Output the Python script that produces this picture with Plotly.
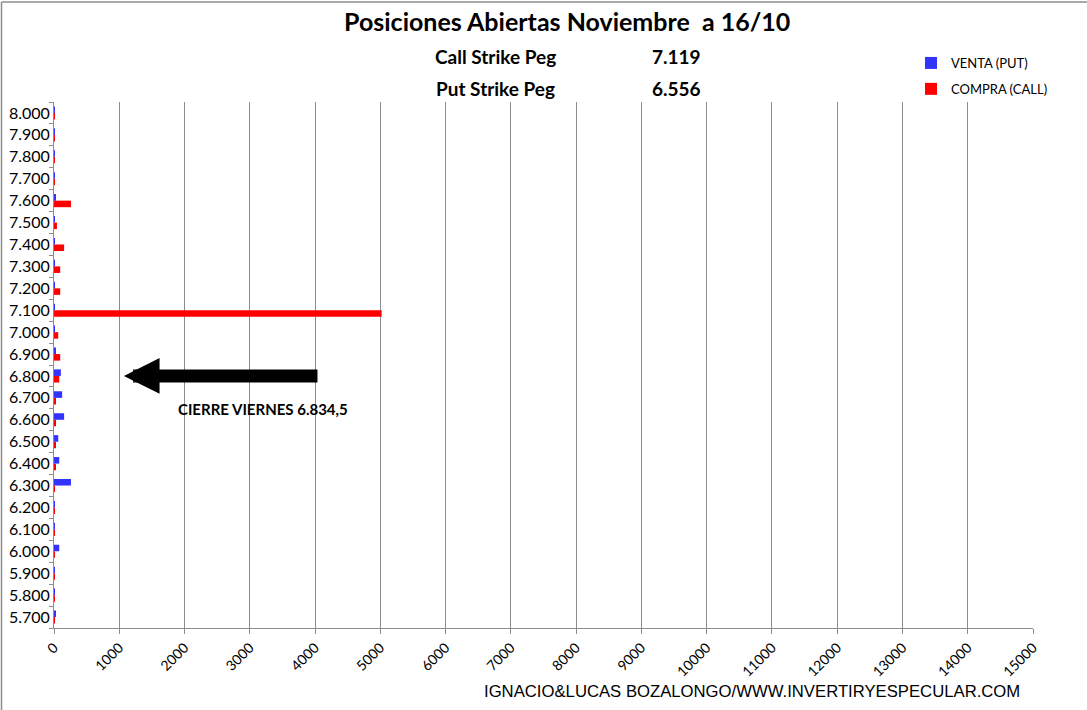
import plotly.graph_objects as go

strikes = ["5.700", "5.800", "5.900", "6.000", "6.100", "6.200", "6.300", "6.400",
           "6.500", "6.600", "6.700", "6.800", "6.900", "7.000", "7.100", "7.200",
           "7.300", "7.400", "7.500", "7.600", "7.700", "7.800", "7.900", "8.000"]
venta_put = [18, 15, 12, 80, 12, 15, 260, 80, 65, 155, 125, 105, 20, 15, 15, 15,
             15, 15, 15, 20, 12, 10, 15, 15]
compra_call = [2, 2, 2, 3, 2, 2, 5, 30, 30, 30, 30, 80, 95, 65, 5020, 95,
               95, 155, 45, 260, 12, 12, 15, 15]
x_ticks = list(range(0, 15001, 1000))

font_main = "Lato, 'Open Sans', sans-serif"

W, H = 1087, 710
L, R, T, B = 54, 54, 102, 82
PW, PH = W - L - R, H - T - B


def px(x):
    return (x - L) / PW


def py(y):
    return (H - B - y) / PH


fig = go.Figure()
fig.add_trace(go.Bar(y=strikes, x=compra_call, orientation="h", name="COMPRA (CALL)",
                     legendgroup="call", legendrank=2,
                     marker=dict(color="#ff0000", line=dict(width=0))))
fig.add_trace(go.Bar(y=strikes, x=venta_put, orientation="h", name="VENTA (PUT)",
                     legendgroup="put", legendrank=1,
                     marker=dict(color="#3333ff", line=dict(width=0))))

idx = strikes.index("6.800")

fig.update_layout(
    width=W, height=H,
    margin=dict(l=L, r=R, t=T, b=B, autoexpand=False),
    paper_bgcolor="white", plot_bgcolor="white",
    barmode="group", bargap=0.4, bargroupgap=0,
    font=dict(family=font_main, size=13, color="#000"),
    showlegend=True,
    legend=dict(x=px(911), y=py(48), xref="paper", yref="paper", xanchor="left", yanchor="top",
                traceorder="grouped", font=dict(size=13, family=font_main),
                itemwidth=30, bgcolor="rgba(0,0,0,0)", tracegroupgap=6),
    xaxis=dict(range=[0, 15000], tickvals=x_ticks, ticktext=[str(v) for v in x_ticks],
               tickangle=-45, showgrid=True, gridcolor="#8c8c8c", gridwidth=1,
               showline=True, linecolor="#8c8c8c", ticks="outside", ticklen=5,
               tickcolor="#8c8c8c", zeroline=False, tickfont=dict(size=14),
               automargin=False),
    yaxis=dict(type="category", categoryorder="array", categoryarray=strikes,
               showgrid=False, showline=True, linecolor="#8c8c8c", ticks="outside",
               tickson="boundaries", ticklen=4, tickcolor="#8c8c8c",
               tickfont=dict(size=16), zeroline=False, automargin=False),
)

fig.add_annotation(text="<b>Posiciones Abiertas Noviembre  a 16/10</b>", x=px(567), y=py(21),
                   xref="paper", yref="paper", showarrow=False, xanchor="center",
                   yanchor="middle", font=dict(size=25, family=font_main))

ann = [
    dict(text="<b>Call Strike Peg</b>", x=495, y=56),
    dict(text="<b>7.119</b>", x=676, y=56),
    dict(text="<b>Put Strike Peg</b>", x=495, y=88),
    dict(text="<b>6.556</b>", x=676, y=88),
]
for a in ann:
    fig.add_annotation(text=a["text"], x=px(a["x"]), y=py(a["y"]),
                       xref="paper", yref="paper", showarrow=False,
                       xanchor="center", yanchor="middle",
                       font=dict(size=19, family=font_main))

# arrow
fig.add_annotation(x=1070, y=idx, ax=4060, ay=idx, xref="x", yref="y",
                   axref="x", ayref="y", showarrow=True, arrowhead=2,
                   arrowwidth=13, arrowsize=0.55, arrowcolor="#000", text="")
fig.add_annotation(text="<b>CIERRE VIERNES 6.834,5</b>", x=px(263), y=py(409),
                   xref="paper", yref="paper", showarrow=False, xanchor="center",
                   yanchor="middle", font=dict(size=15, family=font_main))

fig.add_annotation(text="IGNACIO&LUCAS BOZALONGO/WWW.INVERTIRYESPECULAR.COM",
                   x=px(752), y=py(691), xref="paper", yref="paper",
                   showarrow=False, xanchor="center", yanchor="middle",
                   font=dict(size=16.7, family="'Liberation Sans', Arial, sans-serif"))

# outer border (top and left edges only, as in the reference crop)
fig.add_shape(type="line", xref="paper", yref="paper", x0=px(1.5), x1=px(W),
              y0=py(2), y1=py(2), line=dict(color="#8c8c8c", width=1.5))
fig.add_shape(type="line", xref="paper", yref="paper", x0=px(1.5), x1=px(1.5),
              y0=py(2), y1=py(H), line=dict(color="#8c8c8c", width=1.5))

fig.write_html("out.html", config={"displayModeBar": False},
               post_script="document.body.style.margin='0';document.body.style.overflow='hidden';")
